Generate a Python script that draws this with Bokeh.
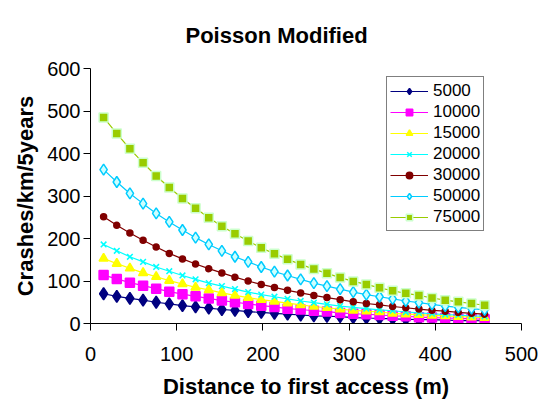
from bokeh.plotting import figure
from bokeh.models import Range1d, FixedTicker
from bokeh.embed import file_html
from bokeh.resources import INLINE

# Distance to first access (m)
distance = [15.2, 30.5, 45.7, 61.0, 76.2, 91.4, 106.7, 121.9, 137.2, 152.4,
            167.6, 182.9, 198.1, 213.4, 228.6, 243.8, 259.1, 274.3, 289.6, 304.8,
            320.0, 335.3, 350.5, 365.8, 381.0, 396.2, 411.5, 426.7, 442.0, 457.2]

s5000 = [70, 64, 59, 55, 50, 46, 42, 39, 36, 33, 31, 28, 26, 24, 22,
         20, 18, 17, 16, 14, 13, 12, 11, 10, 9, 9, 8, 7, 7, 6]
s10000 = [114, 105, 96, 89, 82, 75, 69, 64, 59, 54, 50, 46, 42, 39, 35,
          33, 30, 28, 25, 23, 22, 20, 18, 17, 15, 14, 13, 12, 11, 10]
s15000 = [153, 141, 130, 119, 110, 101, 93, 85, 79, 72, 66, 61, 56, 52, 48,
          44, 40, 37, 34, 31, 29, 27, 24, 22, 21, 19, 18, 16, 15, 14]
s20000 = [186, 171, 157, 145, 133, 123, 113, 104, 95, 88, 81, 74, 68, 63, 58,
          53, 49, 45, 41, 38, 35, 32, 30, 27, 25, 23, 21, 20, 18, 17]
s30000 = [251, 231, 213, 196, 180, 165, 152, 140, 129, 119, 109, 100, 92, 85, 78,
          72, 66, 61, 56, 51, 47, 44, 40, 37, 34, 31, 29, 26, 24, 22]
s50000 = [362, 333, 306, 282, 259, 239, 220, 202, 186, 171, 157, 145, 133, 122, 113,
          104, 95, 88, 81, 74, 68, 63, 58, 53, 49, 45, 41, 38, 35, 32]
s75000 = [485, 447, 411, 378, 347, 320, 294, 271, 249, 229, 211, 194, 178, 164, 151,
          139, 128, 118, 108, 99, 92, 84, 77, 71, 66, 60, 55, 51, 47, 43]

labels = ["5000", "10000", "15000", "20000", "30000", "50000", "75000"]
values = [s5000, s10000, s15000, s20000, s30000, s50000, s75000]

x_ticks = [0, 100, 200, 300, 400, 500]
y_ticks = [0, 100, 200, 300, 400, 500, 600]

styles = [
    dict(line="#000080", marker="diamond", fill="#000080", edge="#000080", size=12),
    dict(line="#FF00FF", marker="square", fill="#FF00FF", edge="#FF00FF", size=9),
    dict(line="#FFFF00", marker="triangle", fill="#FFFF00", edge="#FFFF00", size=9),
    dict(line="#00FFFF", marker="x", fill="#00FFFF", edge="#00FFFF", size=8),
    dict(line="#800000", marker="circle", fill="#800000", edge="#800000", size=6),
    dict(line="#00CCFF", marker="diamond", fill="#CCFFFF", edge="#00CCFF", size=11),
    dict(line="#99CC00", marker="square", fill="#99CC00", edge="#CCFFCC", size=9),
]

FONT = "Liberation Sans"

p = figure(width=540, height=409, output_backend="svg", toolbar_location=None,
           x_range=Range1d(0, 500), y_range=Range1d(0, 600),
           min_border_left=90, min_border_right=19, min_border_top=68, min_border_bottom=86,
           title="Poisson Modified")

p.outline_line_color = None
p.xgrid.grid_line_color = None
p.ygrid.grid_line_color = None
p.background_fill_color = "white"
p.border_fill_color = "white"

p.title.text_font = FONT
p.title.text_font_size = "22px"
p.title.text_font_style = "bold"
p.title.text_color = "black"
p.title.align = "left"
p.title.offset = 95
p.title.standoff = 38
p.title.vertical_align = "top"

for lab, vals, st in zip(labels, values, styles):
    p.line(distance, vals, line_color=st["line"], line_width=1.2, legend_label=lab)
    if st["marker"] == "x":
        p.scatter(distance, vals, marker="x", size=st["size"], line_color=st["edge"],
                  line_width=1.5, legend_label=lab)
    else:
        p.scatter(distance, vals, marker=st["marker"], size=st["size"],
                  fill_color=st["fill"], line_color=st["edge"], line_width=1.5,
                  legend_label=lab)

for ax in (p.xaxis[0], p.yaxis[0]):
    ax.axis_line_color = "black"
    ax.axis_line_width = 1
    ax.major_tick_line_color = "black"
    ax.major_tick_out = 7
    ax.major_tick_in = 0
    ax.minor_tick_line_color = None
    ax.major_label_text_font = FONT
    ax.major_label_text_font_size = "20px"
    ax.major_label_text_color = "black"
    ax.axis_label_text_font = FONT
    ax.axis_label_text_font_size = "22px"
    ax.axis_label_text_font_style = "bold"
    ax.axis_label_text_color = "black"

p.xaxis.ticker = FixedTicker(ticks=x_ticks)
p.yaxis.ticker = FixedTicker(ticks=y_ticks)
p.xaxis.axis_label = "Distance to first access (m)"
p.yaxis.axis_label = "Crashes/km/5years"
p.xaxis.major_label_standoff = 16
p.yaxis.major_label_standoff = 3
p.xaxis.axis_label_standoff = 10
p.yaxis.axis_label_standoff = 6

lg = p.legend[0]
lg.location = (296, 92)
lg.border_line_color = "black"
lg.border_line_width = 1
lg.background_fill_color = "white"
lg.background_fill_alpha = 1
lg.label_text_font = FONT
lg.label_text_font_size = "17px"
lg.label_text_color = "black"
lg.glyph_width = 38
lg.glyph_height = 16
lg.label_height = 21
lg.label_standoff = 5
lg.spacing = 0
lg.padding = 3
lg.margin = 0

open("out.html", "w").write(file_html(p, INLINE))
